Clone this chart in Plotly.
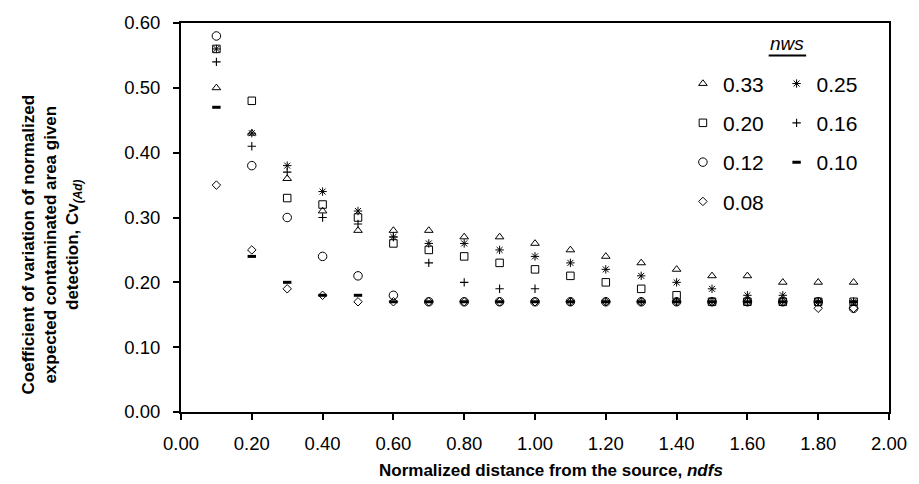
import plotly.graph_objects as go

# ---------------- data ----------------
ndfs = [0.1, 0.2, 0.3, 0.4, 0.5, 0.6, 0.7, 0.8, 0.9, 1.0,
        1.1, 1.2, 1.3, 1.4, 1.5, 1.6, 1.7, 1.8, 1.9]

cv_033 = [0.50, 0.43, 0.36, 0.31, 0.28, 0.28, 0.28, 0.27, 0.27, 0.26,
          0.25, 0.24, 0.23, 0.22, 0.21, 0.21, 0.20, 0.20, 0.20]
cv_025 = [0.56, 0.43, 0.38, 0.34, 0.31, 0.27, 0.26, 0.26, 0.25, 0.24,
          0.23, 0.22, 0.21, 0.20, 0.19, 0.18, 0.18, 0.17, 0.17]
cv_020 = [0.56, 0.48, 0.33, 0.32, 0.30, 0.26, 0.25, 0.24, 0.23, 0.22,
          0.21, 0.20, 0.19, 0.18, 0.17, 0.17, 0.17, 0.17, 0.17]
cv_016 = [0.54, 0.41, 0.37, 0.30, 0.29, 0.27, 0.23, 0.20, 0.19, 0.19,
          0.17, 0.17, 0.17, 0.17, 0.17, 0.17, 0.17, 0.17, 0.17]
cv_012 = [0.58, 0.38, 0.30, 0.24, 0.21, 0.18, 0.17, 0.17, 0.17, 0.17,
          0.17, 0.17, 0.17, 0.17, 0.17, 0.17, 0.17, 0.17, 0.16]
cv_010 = [0.47, 0.24, 0.20, 0.18, 0.18, 0.17, 0.17, 0.17, 0.17, 0.17,
          0.17, 0.17, 0.17, 0.17, 0.17, 0.17, 0.17, 0.17, 0.17]
cv_008 = [0.35, 0.25, 0.19, 0.18, 0.17, 0.17, 0.17, 0.17, 0.17, 0.17,
          0.17, 0.17, 0.17, 0.17, 0.17, 0.17, 0.17, 0.16, 0.16]

x_ticks = [0.0, 0.2, 0.4, 0.6, 0.8, 1.0, 1.2, 1.4, 1.6, 1.8, 2.0]
y_ticks = [0.0, 0.1, 0.2, 0.3, 0.4, 0.5, 0.6]

# ---------------- layout helpers ----------------
W, H = 919, 484
L, R, T, B = 181, 899, 17, 412


def px(x):
    return (x - L) / (R - L)


def py(y):
    return (B - y) / (B - T)


FONT = "Liberation Sans, Arial, sans-serif"

series = [
    # label, values, symbol, size, line width, legend
    ("0.33", cv_033, "triangle-up-open", 7.5, 1, "legend"),
    ("0.20", cv_020, "square-open", 7.5, 1, "legend"),
    ("0.12", cv_012, "circle-open", 8.5, 1, "legend"),
    ("0.08", cv_008, "diamond-open", 6.5, 1, "legend"),
    ("0.25", cv_025, "asterisk-open", 7, 1, "legend2"),
    ("0.16", cv_016, "cross-thin-open", 6, 1.1, "legend2"),
    ("0.10", cv_010, "line-ew-open", 6, 3, "legend2"),
]

fig = go.Figure()
for i, (name, vals, sym, size, lw, leg) in enumerate(series):
    fig.add_trace(go.Scatter(
        x=ndfs, y=vals, mode="markers", name=name,
        legend=leg, legendgroup="g%d" % i,
        marker=dict(symbol=sym, size=size, color="black",
                    line=dict(color="black", width=lw)),
        hoverinfo="x+y+name",
    ))

axis_common = dict(
    showline=True, linecolor="black", linewidth=2, mirror=True,
    ticks="outside", ticklen=6, tickwidth=1.5, tickcolor="black",
    showgrid=False, zeroline=False, tickformat=".2f",
    tickfont=dict(family=FONT, size=18.5, color="black"),
)

legend_common = dict(
    font=dict(family=FONT, size=21, color="black"),
    bgcolor="rgba(0,0,0,0)", borderwidth=0,
    xanchor="left", yanchor="top", tracegroupgap=9,
    itemwidth=30,
)

fig.update_layout(
    width=W, height=H,
    margin=dict(l=L, r=W - R, t=T, b=H - B, pad=0),
    paper_bgcolor="white", plot_bgcolor="white",
    font=dict(family=FONT, color="black"),
    xaxis=dict(range=[0, 2.0], tickvals=x_ticks, ticklabelstandoff=8,
               **axis_common),
    yaxis=dict(range=[0, 0.6], tickvals=y_ticks, ticklabelstandoff=9,
               **axis_common),
    showlegend=True,
    legend=dict(x=px(690), y=py(58), **legend_common),
    legend2=dict(x=px(785), y=py(58), **legend_common),
    annotations=[
        dict(text="<b>Normalized distance from the source, <i>ndfs</i></b>",
             xref="paper", yref="paper", x=px(556), y=py(471),
             xanchor="center", yanchor="middle", showarrow=False,
             font=dict(family=FONT, size=17, color="black")),
        dict(text="<b>Coefficient of variation of normalized<br>"
                  "expected contaminated area given<br>"
                  "detection, Cv<sub><i>(Ad)</i></sub></b>",
             xref="paper", yref="paper", x=px(50), y=py(242),
             xanchor="center", yanchor="middle", showarrow=False,
             textangle=-90, align="center",
             font=dict(family=FONT, size=17, color="black")),
        dict(text="<i>nws</i>", xref="paper", yref="paper",
             x=px(796), y=py(38), xanchor="center", yanchor="middle",
             showarrow=False,
             font=dict(family=FONT, size=19, color="black")),
    ],
    shapes=[
        dict(type="line", xref="paper", yref="paper",
             x0=px(777), x1=px(815), y0=py(50), y1=py(50),
             line=dict(color="black", width=2)),
    ],
)

fig.write_html("out.html")
